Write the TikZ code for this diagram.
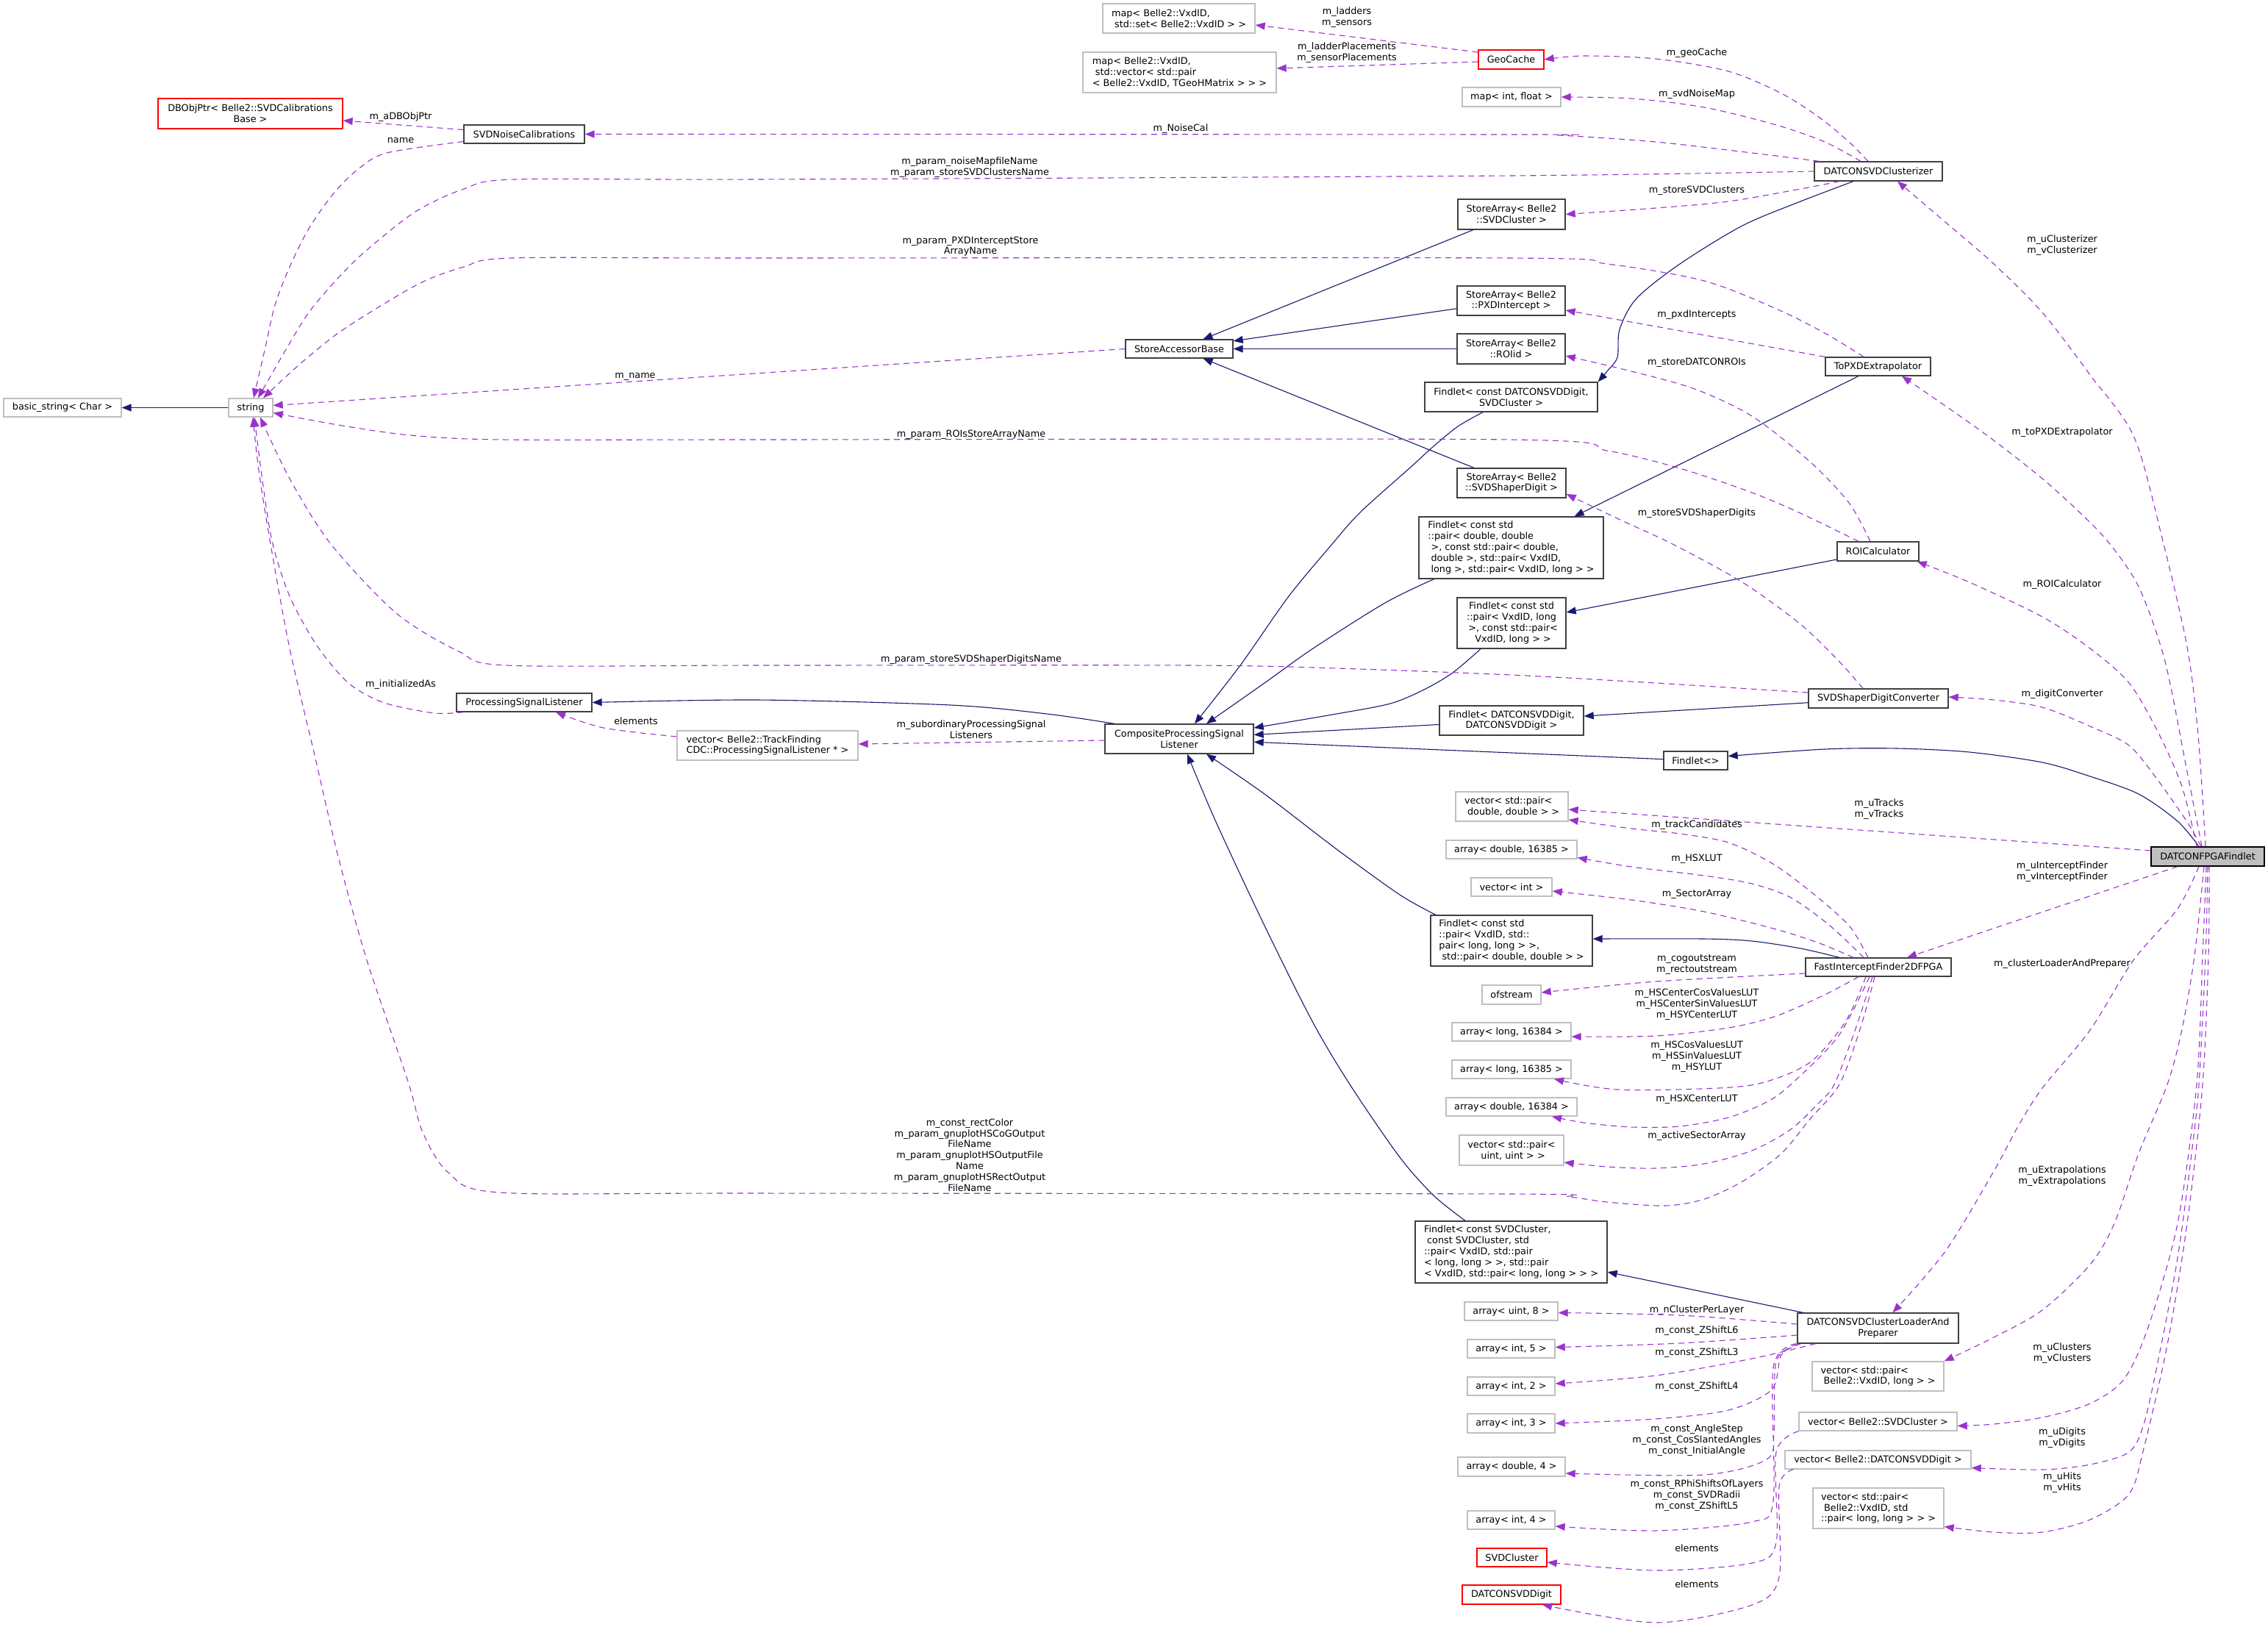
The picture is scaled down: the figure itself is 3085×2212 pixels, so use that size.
\documentclass[tikz,border=0pt]{standalone}
\usepackage{fontspec}
\setmainfont{DejaVu Sans}
\usetikzlibrary{arrows.meta}
\definecolor{inhc}{HTML}{191970}
\definecolor{depc}{HTML}{9A32CD}
\definecolor{bordc}{HTML}{404040}
\definecolor{extc}{HTML}{BFBFBF}
\definecolor{mainfill}{HTML}{BFBFBF}
\definecolor{redc}{HTML}{FF0000}
\tikzset{
 txt/.style={font=\fontsize{12.8pt}{14.8pt}\selectfont},
 cls/.style={txt, draw=bordc, line width=1.3pt, fill=white, inner sep=0pt, align=center},
 ext/.style={cls, draw=extc},
 undoc/.style={cls, draw=redc},
 mainc/.style={cls, fill=mainfill, draw=black},
 lab/.style={txt, inner sep=0pt, align=center},
 inh/.style={draw=inhc, line width=1.1pt, -{Triangle[length=13pt,width=10pt]}},
 dep/.style={draw=depc, line width=1.1pt, dash pattern=on 8pt off 6pt, -{Triangle[length=13pt,width=10pt]}},
}
\begin{document}
\begin{tikzpicture}[x=1pt,y=-1pt]
\fill[white] (0,0) rectangle (3085,2212);
\useasboundingbox (0,0) rectangle (3085,2212);
% nodes
\node[undoc, minimum width=251pt, minimum height=41pt] (dbobj) at (340.5,154.5) {DBObjPtr< Belle2::SVDCalibrations\\Base >};
\node[cls, minimum width=164pt, minimum height=25pt] (noisecal) at (713,182.5) {SVDNoiseCalibrations};
\node[ext, minimum width=160pt, minimum height=25pt] (basicstr) at (85,554.5) {basic\_string< Char >};
\node[ext, minimum width=60pt, minimum height=25pt] (string) at (341,554.5) {string};
\node[ext, align=left, minimum width=207pt, minimum height=40pt] (mapset) at (1603.5,25) {map< Belle2::VxdID,\\\ std::set< Belle2::VxdID > >};
\node[ext, align=left, minimum width=263pt, minimum height=55pt] (mapvec) at (1604.5,98.5) {map< Belle2::VxdID,\\\ std::vector< std::pair\\< Belle2::VxdID, TGeoHMatrix > > >};
\node[undoc, minimum width=89pt, minimum height=26pt] (geocache) at (2055.5,81) {GeoCache};
\node[ext, minimum width=134pt, minimum height=26pt] (mapint) at (2056,132) {map< int, float >};
\node[cls, minimum width=146pt, minimum height=41pt] (saSVDCluster) at (2056,291.5) {StoreArray< Belle2\\::SVDCluster >};
\node[cls, minimum width=147pt, minimum height=40pt] (saPXD) at (2055.5,409) {StoreArray< Belle2\\::PXDIntercept >};
\node[cls, minimum width=147pt, minimum height=41pt] (saROI) at (2055.5,474.5) {StoreArray< Belle2\\::ROIid >};
\node[cls, minimum width=235pt, minimum height=40pt] (fDigitCluster) at (2055.5,540) {Findlet< const DATCONSVDDigit,\\SVDCluster >};
\node[cls, minimum width=146pt, minimum height=25pt] (sab) at (1604,474.5) {StoreAccessorBase};
\node[cls, minimum width=148pt, minimum height=40pt] (saShaper) at (2056,657) {StoreArray< Belle2\\::SVDShaperDigit >};
\node[cls, align=left, minimum width=251pt, minimum height=84pt] (fPairDouble) at (2055.5,745) {Findlet< const std\\::pair< double, double\\\ >, const std::pair< double,\\\ double >, std::pair< VxdID,\\\ long >, std::pair< VxdID, long > >};
\node[cls, minimum width=148pt, minimum height=69pt] (fPairVxd) at (2056,847.5) {Findlet< const std\\::pair< VxdID, long\\\ >, const std::pair<\\\ VxdID, long > >};
\node[cls, minimum width=174pt, minimum height=26pt] (clusterizer) at (2555,233) {DATCONSVDClusterizer};
\node[cls, minimum width=143pt, minimum height=25pt] (topxd) at (2554.5,498.5) {ToPXDExtrapolator};
\node[cls, minimum width=184pt, minimum height=25pt] (psl) at (713,955.5) {ProcessingSignalListener};
\node[ext, align=left, minimum width=246pt, minimum height=40pt] (vecpsl) at (1044,1014) {vector< Belle2::TrackFinding\\CDC::ProcessingSignalListener * >};
\node[cls, minimum width=202pt, minimum height=40pt] (cpsl) at (1604,1005) {CompositeProcessingSignal\\Listener};
\node[cls, minimum width=196pt, minimum height=40pt] (fDigitDigit) at (2056,980) {Findlet< DATCONSVDDigit,\\DATCONSVDDigit >};
\node[ext, align=left, minimum width=153pt, minimum height=40pt] (vecpairdd) at (2056.5,1097) {vector< std::pair<\\\ double, double > >};
\node[ext, minimum width=178pt, minimum height=25pt] (arrd16385) at (2056,1155.5) {array< double, 16385 >};
\node[ext, minimum width=110pt, minimum height=25pt] (vecint) at (2056,1206.5) {vector< int >};
\node[cls, align=left, minimum width=220pt, minimum height=69pt] (fVxdPair) at (2056,1279.5) {Findlet< const std\\::pair< VxdID, std::\\pair< long, long > >,\\\ std::pair< double, double > >};
\node[ext, minimum width=80pt, minimum height=26pt] (ofstream) at (2056,1353) {ofstream};
\node[ext, minimum width=162pt, minimum height=25pt] (arrl16384) at (2056,1403.5) {array< long, 16384 >};
\node[ext, minimum width=162pt, minimum height=25pt] (arrl16385) at (2056,1454.5) {array< long, 16385 >};
\node[cls, minimum width=111pt, minimum height=26pt] (roicalc) at (2554.5,750) {ROICalculator};
\node[cls, minimum width=190pt, minimum height=26pt] (shaperconv) at (2555,950) {SVDShaperDigitConverter};
\node[cls, minimum width=87pt, minimum height=25pt] (findletempty) at (2306.5,1034.5) {Findlet<>};
\node[mainc, minimum width=154pt, minimum height=26pt] (main) at (3003,1165) {DATCONFPGAFindlet};
\node[cls, minimum width=198pt, minimum height=25pt] (fif) at (2555,1315.5) {FastInterceptFinder2DFPGA};
\node[ext, minimum width=178pt, minimum height=25pt] (arrd16384) at (2056,1505.5) {array< double, 16384 >};
\node[ext, minimum width=142pt, minimum height=41pt] (vecpairuu) at (2056,1564.5) {vector< std::pair<\\\ uint, uint > >};
\node[cls, align=left, minimum width=261pt, minimum height=84pt] (fCluster) at (2055.5,1703) {Findlet< const SVDCluster,\\\ const SVDCluster, std\\::pair< VxdID, std::pair\\< long, long > >, std::pair\\< VxdID, std::pair< long, long > > >};
\node[ext, minimum width=127pt, minimum height=25pt] (arru8) at (2055.5,1783.5) {array< uint, 8 >};
\node[ext, minimum width=119pt, minimum height=25pt] (arri5) at (2055.5,1834.5) {array< int, 5 >};
\node[ext, minimum width=119pt, minimum height=25pt] (arri2) at (2055.5,1885.5) {array< int, 2 >};
\node[ext, minimum width=119pt, minimum height=26pt] (arri3) at (2055.5,1936) {array< int, 3 >};
\node[ext, minimum width=146pt, minimum height=26pt] (arrd4) at (2056,1995) {array< double, 4 >};
\node[ext, minimum width=119pt, minimum height=25pt] (arri4) at (2055.5,2067.5) {array< int, 4 >};
\node[undoc, minimum width=95pt, minimum height=25pt] (svdcluster) at (2056.5,2118.5) {SVDCluster};
\node[undoc, minimum width=134pt, minimum height=26pt] (datcondigit) at (2056,2169) {DATCONSVDDigit};
\node[cls, minimum width=219pt, minimum height=41pt] (loader) at (2554.5,1806.5) {DATCONSVDClusterLoaderAnd\\Preparer};
\node[ext, align=left, minimum width=179pt, minimum height=40pt] (vecpairvl) at (2554.5,1872) {vector< std::pair<\\\ Belle2::VxdID, long > >};
\node[ext, minimum width=215pt, minimum height=25pt] (vecsvdc) at (2554.5,1933.5) {vector< Belle2::SVDCluster >};
\node[ext, minimum width=253pt, minimum height=25pt] (vecdigit) at (2554.5,1985.5) {vector< Belle2::DATCONSVDDigit >};
\node[ext, align=left, minimum width=178pt, minimum height=55pt] (vechits) at (2555,2051.5) {vector< std::pair<\\\ Belle2::VxdID, std\\::pair< long, long > > >};
% labels
\node[lab] (l1) at (545,159) {m\_aDBObjPtr};
\node[lab] (l2) at (545,191) {name};
\node[lab] (l3) at (864,512) {m\_name};
\node[lab] (l4) at (1832,24) {m\_ladders\\m\_sensors};
\node[lab] (l5) at (1832,72) {m\_ladderPlacements\\m\_sensorPlacements};
\node[lab] (l6) at (1606,175) {m\_NoiseCal};
\node[lab] (l7) at (1319,228) {m\_param\_noiseMapfileName\\m\_param\_storeSVDClustersName};
\node[lab] (l8) at (1320,335) {m\_param\_PXDInterceptStore\\ArrayName};
\node[lab] (l9) at (1321,591) {m\_param\_ROIsStoreArrayName};
\node[lab] (l10) at (2308,72) {m\_geoCache};
\node[lab] (l11) at (2308,128) {m\_svdNoiseMap};
\node[lab] (l12) at (2308,259) {m\_storeSVDClusters};
\node[lab] (l13) at (2805,334) {m\_uClusterizer\\m\_vClusterizer};
\node[lab] (l14) at (2308,428) {m\_pxdIntercepts};
\node[lab] (l15) at (2308,493) {m\_storeDATCONROIs};
\node[lab] (l16) at (2805,588) {m\_toPXDExtrapolator};
\node[lab] (l17) at (2308,698) {m\_storeSVDShaperDigits};
\node[lab] (l18) at (545,931) {m\_initializedAs};
\node[lab] (l19) at (865,981) {elements};
\node[lab] (l20) at (1321,897) {m\_param\_storeSVDShaperDigitsName};
\node[lab] (l21) at (1321,992) {m\_subordinaryProcessingSignal\\Listeners};
\node[lab] (l22) at (2805,795) {m\_ROICalculator};
\node[lab] (l23) at (2805,944) {m\_digitConverter};
\node[lab] (l24) at (2556,1101) {m\_uTracks\\m\_vTracks};
\node[lab] (l25) at (2308,1122) {m\_trackCandidates};
\node[lab] (l26) at (2308,1168) {m\_HSXLUT};
\node[lab] (l27) at (2308,1216) {m\_SectorArray};
\node[lab] (l28) at (2805,1186) {m\_uInterceptFinder\\m\_vInterceptFinder};
\node[lab] (l29) at (2805,1311) {m\_clusterLoaderAndPreparer};
\node[lab] (l30) at (2308,1312) {m\_cogoutstream\\m\_rectoutstream};
\node[lab] (l31) at (2308,1366) {m\_HSCenterCosValuesLUT\\m\_HSCenterSinValuesLUT\\m\_HSYCenterLUT};
\node[lab] (l32) at (2308,1437) {m\_HSCosValuesLUT\\m\_HSSinValuesLUT\\m\_HSYLUT};
\node[lab] (l33) at (1319,1571) {m\_const\_rectColor\\m\_param\_gnuplotHSCoGOutput\\FileName\\m\_param\_gnuplotHSOutputFile\\Name\\m\_param\_gnuplotHSRectOutput\\FileName};
\node[lab] (l34) at (2308,1495) {m\_HSXCenterLUT};
\node[lab] (l35) at (2308,1545) {m\_activeSectorArray};
\node[lab] (l36) at (2805,1600) {m\_uExtrapolations\\m\_vExtrapolations};
\node[lab] (l37) at (2308,1782) {m\_nClusterPerLayer};
\node[lab] (l38) at (2308,1810) {m\_const\_ZShiftL6};
\node[lab] (l39) at (2308,1840) {m\_const\_ZShiftL3};
\node[lab] (l40) at (2308,1886.5) {m\_const\_ZShiftL4};
\node[lab] (l41) at (2308,1959) {m\_const\_AngleStep\\m\_const\_CosSlantedAngles\\m\_const\_InitialAngle};
\node[lab] (l42) at (2308,2034) {m\_const\_RPhiShiftsOfLayers\\m\_const\_SVDRadii\\m\_const\_ZShiftL5};
\node[lab] (l43) at (2308,2106) {elements};
\node[lab] (l44) at (2308,2155) {elements};
\node[lab] (l45) at (2805,1841) {m\_uClusters\\m\_vClusters};
\node[lab] (l46) at (2805,1956) {m\_uDigits\\m\_vDigits};
\node[lab] (l47) at (2805,2017) {m\_uHits\\m\_vHits};
% inheritance edges
\draw[inh] (string.west) -- (basicstr.east);
\draw[inh] (saSVDCluster) -- (sab);
\draw[inh] (saPXD) -- (sab);
\draw[inh] (saROI) -- (sab);
\draw[inh] (saShaper) -- (sab);
\draw[inh] plot[smooth] coordinates {([xshift=-34pt]clusterizer.south) (2449,274) (2370,307) (2285,359) (2226,406) (2203,448) (2200,486) (2186,505) (fDigitCluster.north east)};
\draw[inh] (topxd) -- (fPairDouble);
\draw[inh] (roicalc) -- (fPairVxd);
\draw[inh] (shaperconv) -- (fDigitDigit);
\draw[inh] plot[smooth] coordinates {([xshift=-12pt]main.north) (2962,1117) (2909,1080) (2843,1056) (2778,1037) (2679,1023) (2581,1018) (2482,1019) ([yshift=6pt]findletempty.east)};
\draw[inh] (findletempty) -- (cpsl);
\draw[inh] (fDigitDigit) -- (cpsl);
\draw[inh] plot[smooth] coordinates {([xshift=-42pt]fPairVxd.south) (1976,915) (1937,938) (1891,957) (1818,971) ([yshift=15pt]cpsl.east)};
\draw[inh] plot[smooth] coordinates {([xshift=-105pt]fPairDouble.south) (1884,820) (1786,882) (1720,929) ([xshift=37pt]cpsl.north)};
\draw[inh] plot[smooth] coordinates {([xshift=-38.5pt]fDigitCluster.south) (1983,580) (1950,607) (1917,637) (1850,697) (1812,740) (1753,811) (1687,905) ([xshift=21pt]cpsl.north)};
\draw[inh] plot[smooth] coordinates {([xshift=-103pt]fVxdPair.north) (1904,1217) (1818,1155) (1720,1080) ([xshift=37pt]cpsl.south)};
\draw[inh] plot[smooth] coordinates {([xshift=-62.5pt]fCluster.north) (1950,1626) (1904,1574) (1838,1478) (1786,1391) (1720,1259) (1654,1118) ([xshift=11pt]cpsl.south)};
\draw[inh] plot[smooth] coordinates {([xshift=-88pt]cpsl.north) (1424,971) (1293,959) (1030,952) (psl.east)};
\draw[inh] plot[smooth] coordinates {([xshift=-53pt]fif.north) (2449,1290) (2383,1280) (2318,1277) ([yshift=2.5pt]fVxdPair.east)};
\draw[inh] (loader) -- (fCluster);
% dependency edges
\draw[dep] ([yshift=10pt]geocache.west) -- ([yshift=-9pt]mapset.east);
\draw[dep] ([yshift=-3pt]geocache.west) -- ([yshift=5.5pt]mapvec.east);
\draw[dep] plot[smooth] coordinates {([xshift=-14pt]clusterizer.north) (2515,193) (2475,160) (2423,127) (2351,97) (2252,80) (2154,76) (geocache.east)};
\draw[dep] plot[smooth] coordinates {([xshift=-24pt]clusterizer.north) (2482,193) (2416,170) (2318,146) (2219,134) (mapint.east)};
\draw[dep] plot[smooth] coordinates {([xshift=7pt]clusterizer.north west) (2383,208) (2252,193) (2121,184) (2055,183) (noisecal.east)};
\draw[dep] plot[smooth] coordinates {(clusterizer.west) (2055,239) (1030,244) (700,244) (631,257) (565,288) (499,340) (460,378) (420,425) (388,477) ([xshift=10pt]string.north)};
\draw[dep] plot[smooth] coordinates {([xshift=-53pt]clusterizer.south) (2449,257) (2351,274) (2252,283) (saSVDCluster.east)};
\draw[dep] ([yshift=6pt]noisecal.west) -- ([yshift=-9.5pt]dbobj.east);
\draw[dep] plot[smooth] coordinates {([yshift=-10pt]noisecal.west) (526,208) (486,231) (453,264) (420,311) (394,363) (374,415) (361,472) ([xshift=4pt]string.north)};
\draw[dep] plot[smooth] coordinates {([xshift=-19.5pt]topxd.north) (2482,453) (2416,420) (2318,382) (2186,359) (2055,351) (1030,351) (696,351) (631,363) (578,382) (526,411) (460,453) (407,496) ([xshift=17pt]string.north)};
\draw[dep] (topxd.north west) -- ([yshift=-13pt]saPXD.east);
\draw[dep] plot[smooth] coordinates {([xshift=-10.5pt]roicalc.north) (2515,684) (2462,628) (2383,566) (2305,529) (2219,505) ([yshift=-9.5pt]saROI.east)};
\draw[dep] plot[smooth] coordinates {([xshift=-26.5pt]roicalc.north) (2449,698) (2383,670) (2285,637) (2186,613) (2055,598) (1030,598) (683,598) (558,592) (460,578) ([yshift=-7pt]string.east)};
\draw[dep] ([yshift=0pt]sab.west) -- ([yshift=3pt]string.east);
\draw[dep] plot[smooth] coordinates {([xshift=-21pt]shaperconv.north) (2502,900) (2449,849) (2370,792) (2275,740) (2206,708) ([yshift=-15pt]saShaper.east)};
\draw[dep] plot[smooth] coordinates {([yshift=8pt]shaperconv.west) (2252,929) (2055,918) (1818,909) (1621,905) (1030,905) (690,905) (624,886) (539,834) (450,740) (394,651) ([xshift=13pt]string.south)};
\draw[dep] plot[smooth] coordinates {([xshift=10pt]psl.south west) (591,970) (526,957) (486,938) (460,915) (427,872) (394,811) (371,740) (358,661) ([xshift=5pt]string.south)};
\draw[dep] plot[smooth] coordinates {([yshift=12pt]vecpsl.west) (821,990) ([xshift=43pt]psl.south)};
\draw[dep] ([yshift=-2pt]cpsl.west) -- ([yshift=2pt]vecpsl.east);
\draw[dep] plot[smooth] coordinates {([xshift=-5pt]fif.south) (2530,1400) (2502,1475) (2462,1522) (2423,1569) (2370,1607) (2318,1631) (2265,1640) (2186,1635) (2134,1628) (2055,1624) (1030,1623) (680,1622) (610,1595) (575,1540) (555,1471) (499,1306) (460,1165) (427,1023) (394,882) (368,740) (352,640) ([xshift=3pt]string.south)};
\draw[dep] plot[smooth] coordinates {([xshift=-3pt]main.north) (2990,1000) (2975,880) (2942,736) (2903,595) (2843,510) (2778,425) (2712,359) (2646,302) ([xshift=26pt]clusterizer.south)};
\draw[dep] plot[smooth] coordinates {([xshift=-8pt]main.north) (2975,1050) (2945,900) (2910,800) (2870,740) (2830,698) (2778,651) (2712,599) (2646,552) ([xshift=32.5pt]topxd.south)};
\draw[dep] plot[smooth] coordinates {([xshift=-15pt]main.north) (2968,1070) (2935,995) (2896,929) (2843,882) (2778,839) (2679,792) ([xshift=-3pt]roicalc.south east)};
\draw[dep] plot[smooth] coordinates {([xshift=-9pt]main.north) (2975,1118) (2935,1061) (2896,1014) (2843,988) (2778,962) (2712,952) ([yshift=2pt]shaperconv.east)};
\draw[dep] ([yshift=8pt]main.west) -- ([yshift=-4pt]vecpairdd.east);
\draw[dep] plot[smooth] coordinates {([xshift=-14pt]fif.north) (2515,1259) (2462,1212) (2410,1174) (2351,1146) (2285,1134) (2219,1127) ([yshift=-18pt]vecpairdd.east)};
\draw[dep] plot[smooth] coordinates {([xshift=-20pt]fif.north) (2489,1259) (2436,1221) (2383,1202) (2318,1191) (2219,1179) ([yshift=-11pt]arrd16385.east)};
\draw[dep] plot[smooth] coordinates {([xshift=-34pt]fif.north) (2475,1283) (2416,1264) (2318,1240) (2219,1224) ([yshift=-5.5pt]vecint.east)};
\draw[dep] plot[smooth] coordinates {([yshift=-8.5pt]fif.west) (2252,1335) ([yshift=3pt]ofstream.east)};
\draw[dep] plot[smooth] coordinates {([xshift=-27pt]fif.south) (2482,1353) (2416,1382) (2351,1398) (2252,1409) ([yshift=-6.5pt]arrl16384.east)};
\draw[dep] plot[smooth] coordinates {([xshift=-17pt]fif.south) (2510,1390) (2462,1445) (2400,1472) (2337,1480) (2200,1482) ([xshift=58pt]arrl16385.south)};
\draw[dep] plot[smooth] coordinates {([xshift=-12pt]fif.south) (2500,1410) (2436,1475) (2403,1499) (2351,1520) (2285,1532) (2219,1533) (2154,1527) ([xshift=55pt]arrd16384.south)};
\draw[dep] plot[smooth] coordinates {([xshift=-8pt]fif.south) (2522,1405) (2495,1475) (2475,1499) (2436,1536) (2383,1565) (2318,1583) (2252,1589) (2186,1587) ([yshift=-16.5pt]vecpairuu.east)};
\draw[dep] ([xshift=-41pt]main.south) -- ([xshift=39pt]fif.north);
\draw[dep] plot[smooth] coordinates {([xshift=-12pt]main.south) (2962,1236) (2902,1306) (2843,1401) (2778,1480) (2745,1532) (2712,1593) (2646,1702) ([xshift=20pt]loader.north)};
\draw[dep] plot[smooth] coordinates {([xshift=-5pt]main.south) (2985,1300) (2968,1400) (2948,1475) (2909,1569) (2876,1664) (2843,1720) (2778,1782) (2712,1819) (vecpairvl.north east)};
\draw[dep] plot[smooth] coordinates {([xshift=-2pt]main.south) (2996,1300) (2988,1475) (2962,1664) (2922,1805) (2889,1876) (2843,1909) (2778,1928) (2712,1937) ([yshift=-6pt]vecsvdc.east)};
\draw[dep] plot[smooth] coordinates {(main.south) (3000,1300) (2991,1475) (2981,1569) (2962,1711) (2935,1853) (2916,1937) (2896,1975) (2843,1992) (2778,1999) ([yshift=-11pt]vecdigit.east)};
\draw[dep] plot[smooth] coordinates {([xshift=2pt]main.south) (3004,1300) (2996,1475) (2975,1664) (2948,1829) (2916,1970) (2896,2032) (2843,2067) (2778,2084) (2712,2084) ([yshift=-25pt]vechits.east)};
\draw[dep] plot[smooth] coordinates {([yshift=5.5pt]loader.west) (2285,1789) ([yshift=-2pt]arru8.east)};
\draw[dep] plot[smooth] coordinates {([yshift=-9.5pt]loader.west) (2285,1827) ([yshift=2pt]arri5.east)};
\draw[dep] plot[smooth] coordinates {([xshift=-85pt]loader.south) (2383,1848) (2252,1871) ([yshift=3.5pt]arri2.east)};
\draw[dep] plot[smooth] coordinates {([xshift=-105pt]loader.south) (2423,1843) (2410,1890) (2351,1918) (2252,1930) (arri3.east)};
\draw[dep] plot[smooth] coordinates {([xshift=1pt]loader.south west) (2416,1852) (2413,1947) (2403,1985) (2318,2006) ([yshift=-9pt]arrd4.east)};
\draw[dep] plot[smooth] coordinates {([xshift=-1pt]loader.south west) (2412,1860) (2412,2041) (2383,2070) (2252,2082) ([yshift=-8.5pt]arri4.east)};
\draw[dep] plot[smooth] coordinates {(vecsvdc.south west) (2416,1975) (2416,2098) (2383,2126) (2252,2136) ([yshift=-6.5pt]svdcluster.east)};
\draw[dep] plot[smooth] coordinates {([xshift=12pt]vecdigit.south west) (2420,2022) (2420,2145) (2383,2183) (2252,2207) ([xshift=42pt]datcondigit.south)};
\end{tikzpicture}
\end{document}
